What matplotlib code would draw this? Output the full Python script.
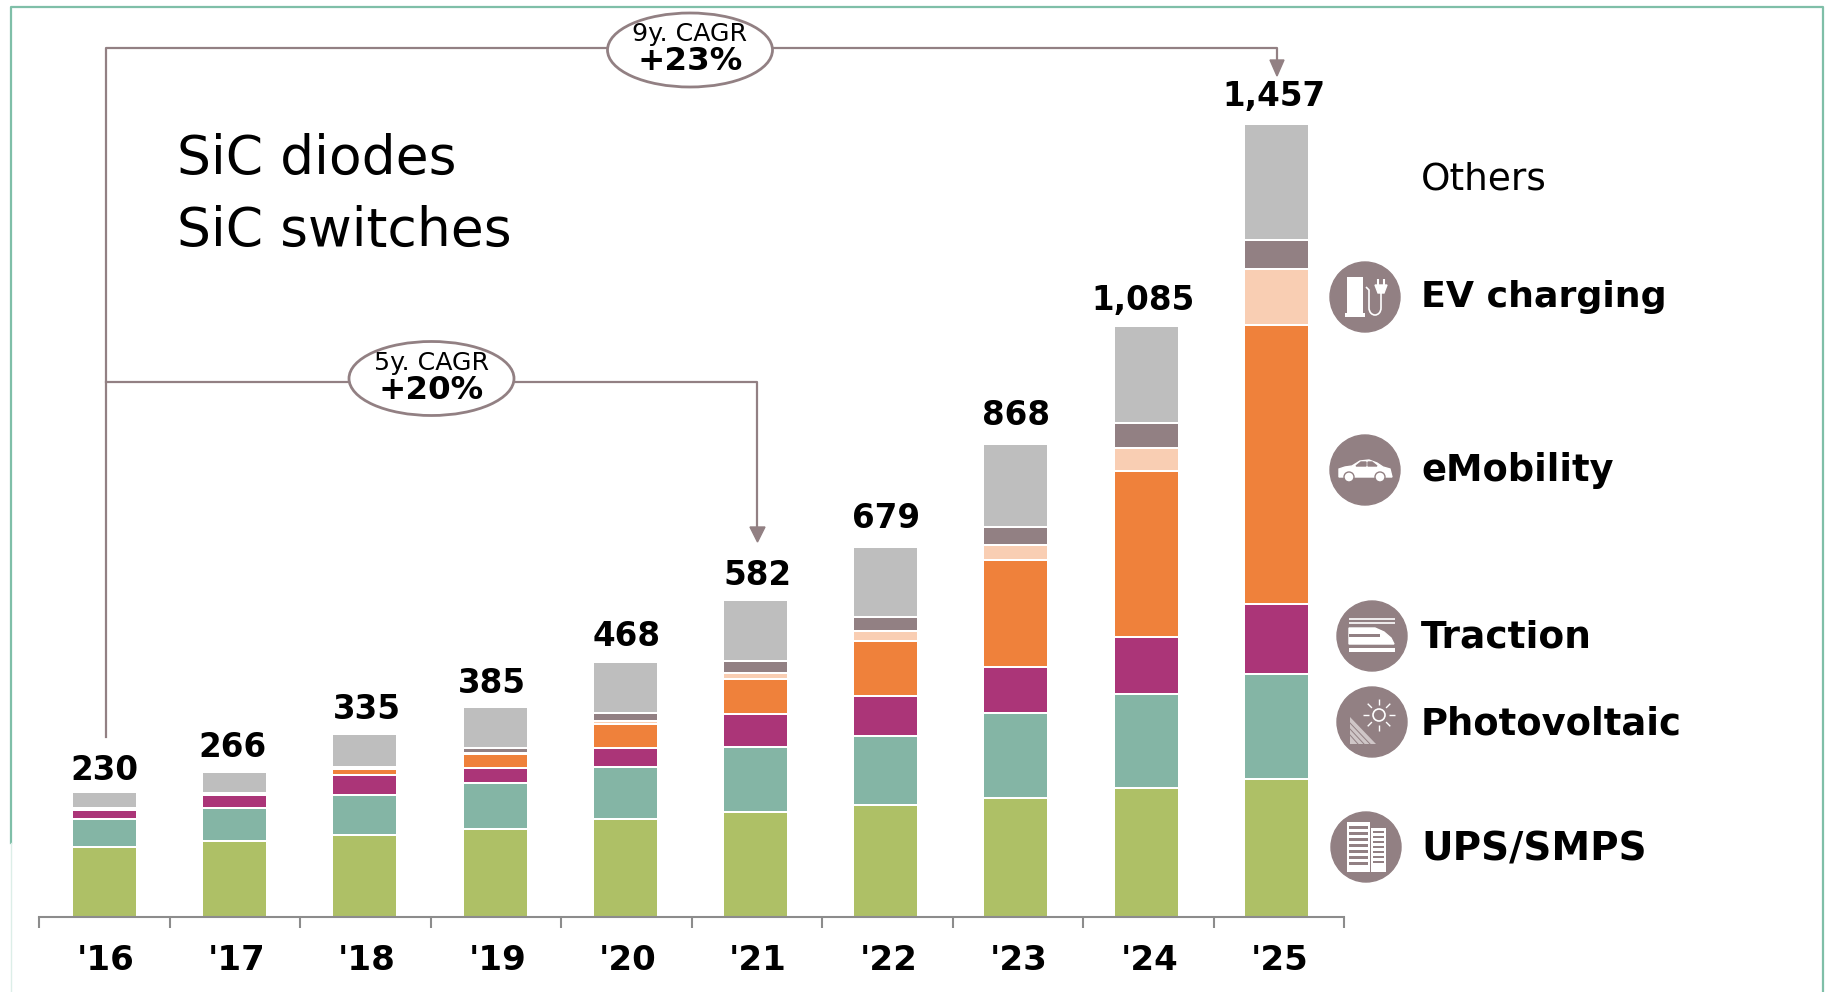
import numpy as np
import matplotlib
matplotlib.use('Agg')
import matplotlib.pyplot as plt
from matplotlib.patches import Ellipse, Rectangle, Polygon, Circle, Arc

years = ["'16", "'17", "'18", "'19", "'20", "'21", "'22", "'23", "'24", "'25"]
totals = [230, 266, 335, 385, 468, 582, 679, 868, 1085, 1457]
ups_smps = [129, 139, 150, 162, 180, 193, 206, 219, 237, 253]
photovoltaic = [50, 61, 74, 84, 95, 119, 127, 156, 173, 193]
traction = [18, 24, 37, 28, 35, 60, 73, 83, 103, 128]
emobility = [0, 0, 11, 25, 44, 65, 101, 197, 306, 513]
ev_charging = [0, 0, 0, 2, 6, 11, 17, 28, 42, 103]
others_dark = [3, 3, 3, 10, 15, 22, 26, 32, 45, 53]
others_light = [30, 39, 60, 74, 93, 112, 129, 153, 179, 213]

series = [ups_smps, photovoltaic, traction, emobility, ev_charging, others_dark, others_light]
colors = ['#AEC066', '#84B5A5', '#AB3578', '#EF813B', '#F9CEB3', '#928083', '#BEBEBE']

# label placement, in pixels: the source labels were placed by hand
label_dx = [0, -2, 2, -3, 1, 2, 0, 0, -3, -2]
label_dy = [5, 2, 1, 3, 1, 2, -2, -2, 1, -1]

plt.rcParams['font.family'] = ['DejaVu Sans']
brown = '#928083'
W, H = 1825, 992
fig = plt.figure(figsize=(W / 100, H / 100), dpi=100, facecolor='white')

# chart axes fill the figure, limits chosen so the bars land where they should
ax = fig.add_axes([0, 0, 1, 1])
step = 130.2
x0 = 104.5
base = 917
upp = 1457 / 794  # units per pixel
ax.set_xlim(-x0 / step, (W - x0) / step)
ax.set_ylim(-(H - base) * upp, base * upp)
ax.patch.set_alpha(0)

x = np.arange(len(years))
bottom = np.zeros(len(years))
for vals, col in zip(series, colors):
    ax.bar(x, vals, width=0.5, bottom=bottom, color=col, edgecolor='white', linewidth=1.44)
    bottom += np.array(vals)

for i, t in enumerate(totals):
    ax.annotate(f'{t:,}', (i, bottom[i]),
                xytext=(label_dx[i] * 0.72, 19 - label_dy[i] * 0.72), textcoords='offset points',
                ha='center', va='center', fontsize=23.5, fontweight='bold', color='black')

for s in ['left', 'right', 'top']:
    ax.spines[s].set_visible(False)
tick_step = 1.002
ax.spines['bottom'].set_position(('data', 0))
ax.spines['bottom'].set_bounds(-0.5, -0.5 + 10 * tick_step)
ax.spines['bottom'].set_color('#8C8C8C')
ax.spines['bottom'].set_linewidth(1.5)
ax.set_yticks([])
ax.set_xticks(x * tick_step + 0.01)
ax.set_xticklabels(years, fontsize=24.5, fontweight='bold')
ax.set_xticks(-0.5 + np.arange(11) * tick_step, minor=True)
ax.tick_params(axis='x', which='major', length=0, pad=19.5)
ax.tick_params(axis='x', which='minor', length=8, width=1.5, color='#8C8C8C')

# overlay in pixel coordinates for the frame, brackets, notes and icons
ov = fig.add_axes([0, 0, 1, 1])
ov.set_xlim(0, W)
ov.set_ylim(H, 0)
ov.axis('off')
ov.patch.set_alpha(0)

ov.plot([11, 11, 1823, 1823], [843, 7, 7, 992], color='#7FBFA8', lw=1.6)
ov.plot([11, 11], [843, 992], color='#DCEEE8', lw=1)

# CAGR brackets
ov.plot([106, 106, 1277, 1277], [737, 47.5, 47.5, 62], color=brown, lw=1.6)
ov.plot([106, 757, 757], [381.5, 381.5, 528], color=brown, lw=1.6)
ov.add_patch(Polygon([[1270, 60], [1284, 60], [1277, 76]], color=brown))
ov.add_patch(Polygon([[750, 527], [765, 527], [757.5, 542]], color=brown))
for cx, cy, top, bot in [(690, 50, '9y. CAGR', '+23%'), (431.5, 378.5, '5y. CAGR', '+20%')]:
    ov.add_patch(Ellipse((cx, cy), 165, 74, fc='white', ec=brown, lw=2, zorder=3))
    ov.text(cx, cy - 15.5, top, ha='center', va='center', fontsize=18.2, zorder=4)
    ov.text(cx, cy + 12, bot, ha='center', va='center', fontsize=23.4, fontweight='bold', zorder=4)

ov.text(177, 158.5, 'SiC diodes', fontsize=38.5, va='center', ha='left')
ov.text(177, 230.5, 'SiC switches', fontsize=38.5, va='center', ha='left')

ov.text(1421, 179.5, 'Others', fontsize=27, va='center', ha='left')
for name, y, size in [('EV charging', 297, 26.2), ('eMobility', 470.5, 26.5), ('Traction', 638, 27),
                      ('Photovoltaic', 724, 26.6), ('UPS/SMPS', 849, 28)]:
    ov.text(1421, y, name, fontsize=size, fontweight='bold', va='center', ha='left')


def badge(cx, cy):
    ov.add_patch(Circle((cx, cy), 35, color=brown, zorder=3))


def white_line(xs, ys, lw=1.2):
    ov.plot(xs, ys, color='white', lw=lw, zorder=4, solid_capstyle='butt')


def white_box(x, y, w, h):
    ov.add_patch(Rectangle((x, y), w, h, color='white', zorder=4, lw=0))


# EV charger
cx, cy = 1365, 297
badge(cx, cy)
white_box(cx - 18, cy - 20, 16, 36)
white_box(cx - 20, cy + 16, 20, 4)
white_line([cx + 1, cx + 4, cx + 4], [cy - 10, cy - 7, cy + 11])
ov.add_patch(Arc((cx + 10, cy + 11), 12, 14, theta1=0, theta2=180, color='white', lw=1.2, zorder=4))
white_line([cx + 16, cx + 16], [cy + 11, cy - 4])
ov.add_patch(Polygon([[cx + 10, cy - 12], [cx + 22, cy - 12], [cx + 19, cy - 4], [cx + 13, cy - 4]],
                     color='white', zorder=4))
white_line([cx + 13, cx + 13], [cy - 18, cy - 12], 1.5)
white_line([cx + 19, cx + 19], [cy - 18, cy - 12], 1.5)

# car
cx, cy = 1365, 470
badge(cx, cy)
ov.add_patch(Polygon([[cx - 26, cy + 7], [cx - 26, cy - 1], [cx - 20, cy - 3], [cx - 13, cy - 4],
                      [cx - 5, cy - 9], [cx + 4, cy - 10], [cx + 12, cy - 7], [cx + 18, cy - 3],
                      [cx + 25, cy - 1], [cx + 27, cy + 7]], color='white', zorder=4))
for dx in (-16, 15):
    ov.add_patch(Circle((cx + dx, cy + 7), 5, fc='white', ec=brown, lw=1, zorder=5))
ov.add_patch(Polygon([[cx - 9, cy - 4], [cx - 4, cy - 8], [cx + 1, cy - 8], [cx + 1, cy - 4]],
                     color=brown, zorder=5))
ov.add_patch(Polygon([[cx + 3, cy - 8], [cx + 7, cy - 8], [cx + 12, cy - 4], [cx + 3, cy - 4]],
                     color=brown, zorder=5))

# train
cx, cy = 1372, 636
badge(cx, cy)
white_line([cx - 23, cx + 23], [cy - 17, cy - 17])
white_line([cx - 23, cx + 23], [cy - 13, cy - 13])
ov.add_patch(Polygon([[cx - 23, cy - 8], [cx + 3, cy - 8], [cx + 12, cy - 4], [cx + 19, cy + 2],
                      [cx + 22, cy + 8], [cx - 23, cy + 8]], color='white', zorder=4))
ov.add_patch(Rectangle((cx - 23, cy - 2), 31, 3, color=brown, zorder=5, lw=0))
white_box(cx - 23, cy + 12, 46, 4)

# sun and panel
cx, cy = 1372, 722
badge(cx, cy)
ov.add_patch(Circle((cx + 7, cy - 7), 6, fc='none', ec='white', lw=1.2, zorder=4))
for a in np.arange(0, 360, 45):
    ca, sa = np.cos(np.radians(a)), np.sin(np.radians(a))
    white_line([cx + 7 + 10 * ca, cx + 7 + 16 * ca], [cy - 7 + 10 * sa, cy - 7 + 16 * sa], 1)
ov.add_patch(Polygon([[cx - 22, cy - 5], [cx - 22, cy + 22], [cx + 4, cy + 22]],
                     fc='#CFC6C7', ec='none', zorder=4))
for d in (6, 12, 18):
    ov.plot([cx - 22, cx - 22 + 26 - d], [cy - 5 + d, cy + 22], color=brown, lw=0.7, zorder=5)

# buildings
cx, cy = 1366, 847
badge(cx, cy)
white_box(cx - 19, cy - 25, 23, 50)
white_box(cx + 5, cy - 19, 15, 44)
for yy in range(-21, 19, 6):
    ov.add_patch(Rectangle((cx - 17, cy + yy), 19, 3, color=brown, zorder=5, lw=0))
for yy in range(-16, 19, 5):
    ov.add_patch(Rectangle((cx + 7, cy + yy), 11, 2.4, color=brown, zorder=5, lw=0))

fig.savefig('out.png', dpi=100, facecolor='white')
